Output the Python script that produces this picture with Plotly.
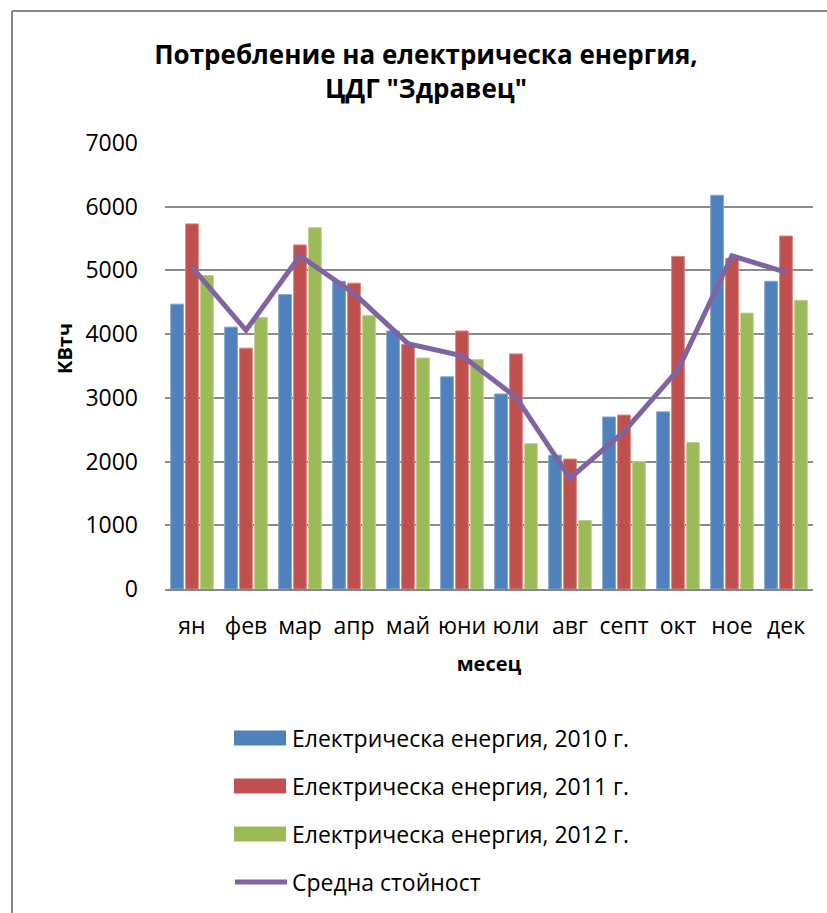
import plotly.graph_objects as go

# Monthly electricity consumption, kWh
months = ["ян", "фев", "мар", "апр", "май", "юни", "юли", "авг", "септ", "окт", "ное", "дек"]
energy_2010 = [4470, 4110, 4620, 4830, 4050, 3330, 3060, 2100, 2700, 2780, 6180, 4830]
energy_2011 = [5730, 3780, 5400, 4800, 3840, 4050, 3690, 2040, 2730, 5220, 5190, 5540]
energy_2012 = [4920, 4260, 5670, 4290, 3625, 3600, 2280, 1075, 2000, 2300, 4330, 4530]
average = [5050, 4060, 5230, 4640, 3850, 3660, 3010, 1740, 2470, 3440, 5230, 4970]

series_names = [
    "Електрическа енергия, 2010 г.",
    "Електрическа енергия, 2011 г.",
    "Електрическа енергия, 2012 г.",
]
line_name = "Средна стойност"
y_ticks = [0, 1000, 2000, 3000, 4000, 5000, 6000, 7000]

bar_colors = ["#4F81BD", "#C0504D", "#9BBB59"]
edge_colors = ["#7FA3D1", "#D68784", "#B9D08C"]
line_color = "#8064A2"

FONT = "Open Sans"
W, H = 827, 913
L, R, T, B = 165, 14, 143, 324
PW, PH = W - L - R, H - T - B


def px(x):
    return (x - L) / PW


def py(y):
    return (H - B - y) / PH


fig = go.Figure()
for vals, name, col, edge in zip([energy_2010, energy_2011, energy_2012], series_names, bar_colors, edge_colors):
    fig.add_trace(go.Bar(x=months, y=vals, name=name, marker=dict(color=col, line=dict(color=edge, width=1))))

fig.add_trace(go.Scatter(x=months, y=average, name=line_name, mode="lines",
                         line=dict(color=line_color, width=5)))

shapes = [
    # chart frame (top and left edges visible)
    dict(type="line", xref="paper", yref="paper", x0=px(12), x1=px(W + 10), y0=py(11), y1=py(11),
         line=dict(color="#868686", width=2)),
    dict(type="line", xref="paper", yref="paper", x0=px(12), x1=px(12), y0=py(11), y1=py(H + 10),
         line=dict(color="#868686", width=2)),
]
annotations = [
    dict(text="КВтч", textangle=-90, xref="paper", yref="paper", x=px(64), y=py(349),
         xanchor="center", yanchor="middle",
         showarrow=False, font=dict(family=FONT, size=20, color="black", weight="bold")),
]

# legend block
rows = [738, 786, 834, 882]
for i, (name, col) in enumerate(zip(series_names, bar_colors)):
    y = rows[i]
    shapes.append(dict(type="rect", xref="paper", yref="paper", x0=px(234), x1=px(286),
                       y0=py(y - 7.5), y1=py(y + 7.5), fillcolor=col, line=dict(width=0)))
    annotations.append(dict(text=name, xref="paper", yref="paper", x=px(290), y=py(y),
                            xanchor="left", yanchor="middle", showarrow=False,
                            font=dict(family=FONT, size=23, color="black")))
shapes.append(dict(type="line", xref="paper", yref="paper", x0=px(235), x1=px(287),
                   y0=py(rows[3]), y1=py(rows[3]), line=dict(color=line_color, width=5)))
annotations.append(dict(text=line_name, xref="paper", yref="paper", x=px(290), y=py(rows[3]),
                        xanchor="left", yanchor="middle", showarrow=False,
                        font=dict(family=FONT, size=23, color="black")))

fig.update_layout(
    width=W, height=H,
    margin=dict(l=L, r=R, t=T, b=B),
    paper_bgcolor="white", plot_bgcolor="white",
    showlegend=False,
    barmode="group", bargap=0.17, bargroupgap=0.15,
    font=dict(family=FONT, size=23, color="black"),
    title=dict(text="Потребление на електрическа енергия,<br>ЦДГ \"Здравец\"",
               x=426 / W, xanchor="center", xref="container",
               y=1 - 64 / H, yanchor="middle", yref="container",
               font=dict(family=FONT, size=26, color="black", weight="bold")),
    shapes=shapes, annotations=annotations,
)
fig.update_xaxes(showgrid=False, showline=True, linecolor="#868686", linewidth=1.5,
                 ticks="", ticklabelstandoff=16,
                 title=dict(text="месец", standoff=17,
                            font=dict(family=FONT, size=20, color="black", weight="bold")))
fig.update_yaxes(range=[0, 7000], tickvals=y_ticks, showgrid=True, gridcolor="#8C8C8C", gridwidth=1.5,
                 showline=False, zeroline=False, ticks="", ticklabelstandoff=26)

fig.write_html("out.html")
